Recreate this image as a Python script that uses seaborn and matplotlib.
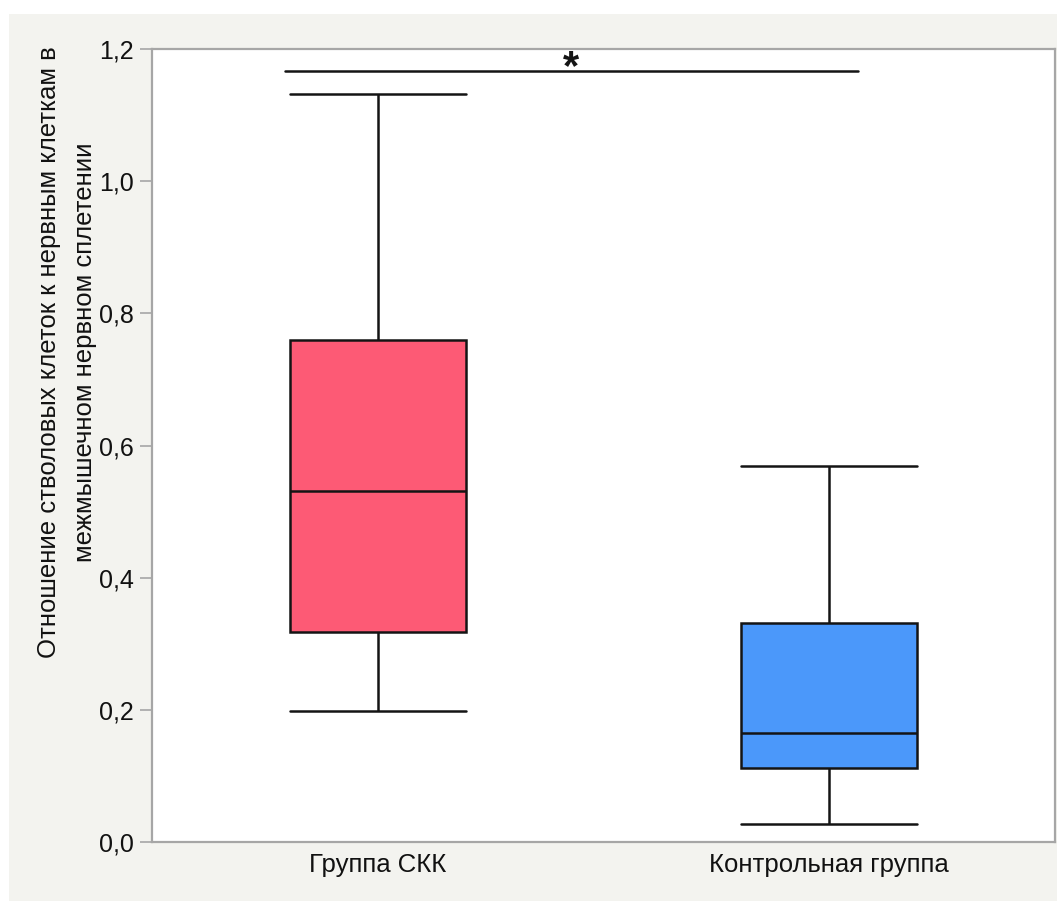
import matplotlib
matplotlib.use("Agg")
import matplotlib.pyplot as plt
from matplotlib.patches import Rectangle
from matplotlib.ticker import FuncFormatter
import seaborn as sns
import pandas as pd

# Five-number summaries (min, Q1, median, Q3, max) per group
groups = ["Группа СКК", "Контрольная группа"]
skk_values = [0.199, 0.318, 0.531, 0.760, 1.132]
control_values = [0.027, 0.112, 0.166, 0.332, 0.569]
group_colors = ["#FD5A75", "#4B98FA"]
y_ticks = [0.0, 0.2, 0.4, 0.6, 0.8, 1.0, 1.2]
sig_level = 1.166
sig_span = [-0.206, 1.064]
sig_mark = "*"
y_label = "Отношение стволовых клеток к нервным клеткам в\nмежмышечном нервном сплетении"

df = pd.DataFrame({
    "group": [groups[0]] * len(skk_values) + [groups[1]] * len(control_values),
    "value": skk_values + control_values,
})

sns.set_theme(style="white")
plt.rcParams["font.family"] = ["Liberation Sans", "DejaVu Sans"]

fig = plt.figure(figsize=(10.57, 9.01), dpi=100)
fig.patch.set_facecolor("white")
fig.patches.append(Rectangle((9 / 1057, 0), 1 - 9 / 1057, 1 - 14 / 901,
                             transform=fig.transFigure, facecolor="#F3F3EF",
                             edgecolor="none", zorder=-10))

ax = fig.add_axes([152 / 1057, (901 - 842.3) / 901, (1055 - 152) / 1057, (842.3 - 49) / 901])
ax.set_zorder(1)
ax.set_facecolor("white")

sns.boxplot(data=df, x="group", y="value", hue="group", order=groups,
            palette=group_colors, saturation=1, width=0.39, whis=(0, 100),
            linecolor="#141414", linewidth=1.8, legend=False, ax=ax,
            capwidths=0.39)

ax.set_xlim(-0.5, 1.5)
ax.set_ylim(0, 1.2)
ax.set_yticks(y_ticks)
ax.yaxis.set_major_formatter(FuncFormatter(lambda v, p: f"{v:.1f}".replace(".", ",")))
ax.set_xlabel("")
ax.set_ylabel("")

for s in ax.spines.values():
    s.set_color("#A6A6A6")
    s.set_linewidth(1.6)

ax.tick_params(axis="y", length=9, width=1.2, color="#A6A6A6", pad=4,
               labelsize=18, labelcolor="#111111", left=True)
ax.tick_params(axis="x", length=0, pad=8, labelsize=18.5, labelcolor="#111111")

# significance bracket
ax.plot(sig_span, [sig_level, sig_level], color="#141414", lw=1.8, clip_on=False)
ax.text(sum(sig_span) / 2, 1.1545, sig_mark, ha="center", va="baseline",
        fontsize=30, fontweight="bold", color="#141414")

fig.text(67 / 1057, 1 - 352 / 901, y_label, rotation=90, ha="center", va="center",
         multialignment="center", fontsize=18.5, color="#111111", linespacing=1.6)

fig.savefig("out.png", dpi=100, facecolor=fig.get_facecolor())
